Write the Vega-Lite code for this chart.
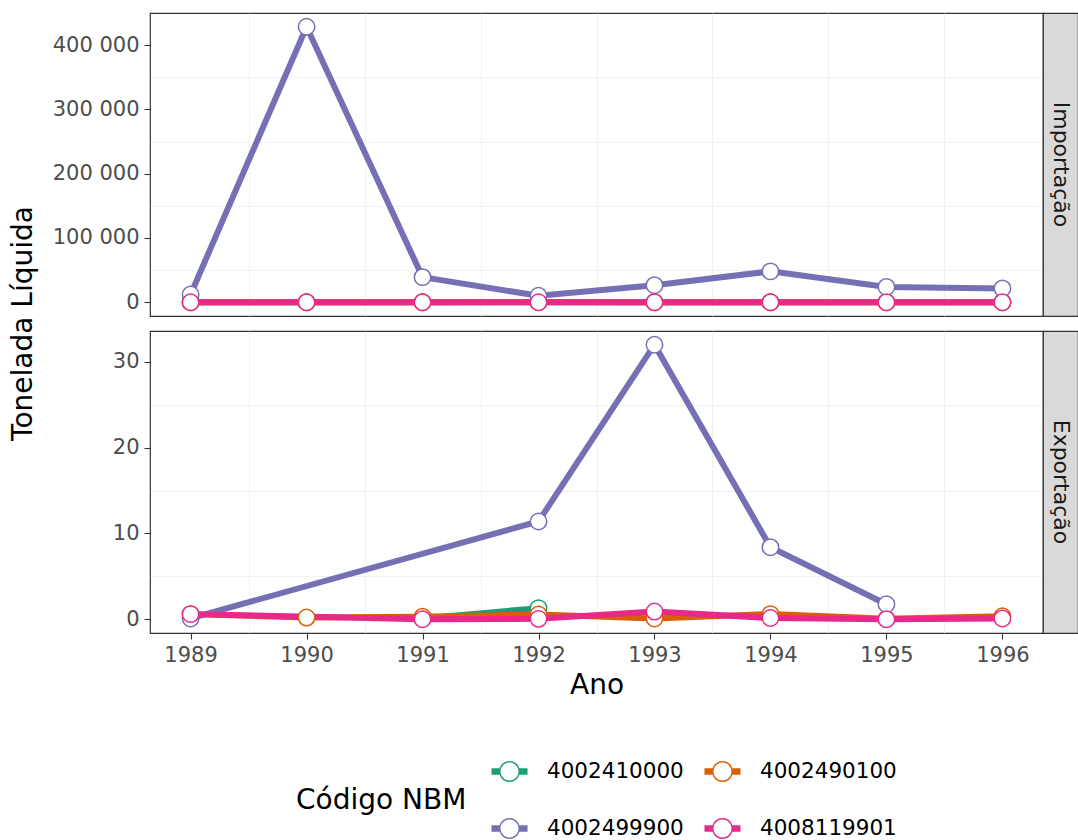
{
  "$schema": "https://vega.github.io/schema/vega-lite/v6.json",
  "padding": {"left": 8, "top": 12, "right": 0, "bottom": 0},
  "background": "white",
  "config": {
    "locale": {"number": {"decimal": ",", "thousands": " ", "grouping": [3], "currency": ["", ""]}},
    "font": "DejaVu Sans",
    "view": {"stroke": "#333333", "strokeWidth": 1.2},
    "axis": {
      "labelFont": "DejaVu Sans", "labelFontSize": 21, "labelColor": "#4D4D4D",
      "tickColor": "#333333", "tickSize": 6, "tickWidth": 1.1, "domain": false,
      "gridColor": "#EBEBEB", "gridWidth": 1.4,
      "titleFont": "DejaVu Sans", "titleFontSize": 28, "titleFontWeight": "normal", "titleColor": "#000000"
    }
  },
  "datasets": {
    "d": [
      {"fluxo": "Importação", "codigo": "4002410000", "ano": 1989, "ton": 0},
      {"fluxo": "Importação", "codigo": "4002410000", "ano": 1990, "ton": 0},
      {"fluxo": "Importação", "codigo": "4002410000", "ano": 1991, "ton": 0},
      {"fluxo": "Importação", "codigo": "4002410000", "ano": 1992, "ton": 0},
      {"fluxo": "Importação", "codigo": "4002410000", "ano": 1993, "ton": 0},
      {"fluxo": "Importação", "codigo": "4002410000", "ano": 1994, "ton": 0},
      {"fluxo": "Importação", "codigo": "4002410000", "ano": 1995, "ton": 0},
      {"fluxo": "Importação", "codigo": "4002410000", "ano": 1996, "ton": 0},
      {"fluxo": "Importação", "codigo": "4002490100", "ano": 1989, "ton": 0},
      {"fluxo": "Importação", "codigo": "4002490100", "ano": 1990, "ton": 0},
      {"fluxo": "Importação", "codigo": "4002490100", "ano": 1991, "ton": 0},
      {"fluxo": "Importação", "codigo": "4002490100", "ano": 1992, "ton": 300},
      {"fluxo": "Importação", "codigo": "4002490100", "ano": 1993, "ton": 0},
      {"fluxo": "Importação", "codigo": "4002490100", "ano": 1994, "ton": 0},
      {"fluxo": "Importação", "codigo": "4002490100", "ano": 1995, "ton": 0},
      {"fluxo": "Importação", "codigo": "4002490100", "ano": 1996, "ton": 0},
      {"fluxo": "Importação", "codigo": "4002499900", "ano": 1989, "ton": 12000},
      {"fluxo": "Importação", "codigo": "4002499900", "ano": 1990, "ton": 428500},
      {"fluxo": "Importação", "codigo": "4002499900", "ano": 1991, "ton": 39000},
      {"fluxo": "Importação", "codigo": "4002499900", "ano": 1992, "ton": 10000},
      {"fluxo": "Importação", "codigo": "4002499900", "ano": 1993, "ton": 26500},
      {"fluxo": "Importação", "codigo": "4002499900", "ano": 1994, "ton": 48000},
      {"fluxo": "Importação", "codigo": "4002499900", "ano": 1995, "ton": 23800},
      {"fluxo": "Importação", "codigo": "4002499900", "ano": 1996, "ton": 21500},
      {"fluxo": "Importação", "codigo": "4008119901", "ano": 1989, "ton": 0},
      {"fluxo": "Importação", "codigo": "4008119901", "ano": 1990, "ton": 0},
      {"fluxo": "Importação", "codigo": "4008119901", "ano": 1991, "ton": 0},
      {"fluxo": "Importação", "codigo": "4008119901", "ano": 1992, "ton": 0},
      {"fluxo": "Importação", "codigo": "4008119901", "ano": 1993, "ton": 0},
      {"fluxo": "Importação", "codigo": "4008119901", "ano": 1994, "ton": 0},
      {"fluxo": "Importação", "codigo": "4008119901", "ano": 1995, "ton": 0},
      {"fluxo": "Importação", "codigo": "4008119901", "ano": 1996, "ton": 0},
      {"fluxo": "Exportação", "codigo": "4002410000", "ano": 1991, "ton": 0.1},
      {"fluxo": "Exportação", "codigo": "4002410000", "ano": 1992, "ton": 1.3},
      {"fluxo": "Exportação", "codigo": "4002490100", "ano": 1989, "ton": 0.6},
      {"fluxo": "Exportação", "codigo": "4002490100", "ano": 1990, "ton": 0.2},
      {"fluxo": "Exportação", "codigo": "4002490100", "ano": 1991, "ton": 0.3},
      {"fluxo": "Exportação", "codigo": "4002490100", "ano": 1992, "ton": 0.55},
      {"fluxo": "Exportação", "codigo": "4002490100", "ano": 1993, "ton": 0.1},
      {"fluxo": "Exportação", "codigo": "4002490100", "ano": 1994, "ton": 0.6},
      {"fluxo": "Exportação", "codigo": "4002490100", "ano": 1995, "ton": 0.05},
      {"fluxo": "Exportação", "codigo": "4002490100", "ano": 1996, "ton": 0.35},
      {"fluxo": "Exportação", "codigo": "4002499900", "ano": 1989, "ton": 0.1},
      {"fluxo": "Exportação", "codigo": "4002499900", "ano": 1992, "ton": 11.4},
      {"fluxo": "Exportação", "codigo": "4002499900", "ano": 1993, "ton": 32.0},
      {"fluxo": "Exportação", "codigo": "4002499900", "ano": 1994, "ton": 8.4},
      {"fluxo": "Exportação", "codigo": "4002499900", "ano": 1995, "ton": 1.75},
      {"fluxo": "Exportação", "codigo": "4008119901", "ano": 1989, "ton": 0.6},
      {"fluxo": "Exportação", "codigo": "4008119901", "ano": 1991, "ton": 0.0},
      {"fluxo": "Exportação", "codigo": "4008119901", "ano": 1992, "ton": 0.05},
      {"fluxo": "Exportação", "codigo": "4008119901", "ano": 1993, "ton": 0.9},
      {"fluxo": "Exportação", "codigo": "4008119901", "ano": 1994, "ton": 0.15},
      {"fluxo": "Exportação", "codigo": "4008119901", "ano": 1995, "ton": 0.0},
      {"fluxo": "Exportação", "codigo": "4008119901", "ano": 1996, "ton": 0.1}
    ]
  },
  "columns": 2,
  "spacing": {"row": 15, "column": 0},
  "bounds": "flush",
  "concat": [
    {
      "width": 893,
      "height": 303,
      "data": {"name": "d"},
      "transform": [{"filter": "datum.fluxo === 'Importação'"}],
      "resolve": {"axis": {"x": "independent", "y": "independent"}},
      "layer": [
        {
          "mark": {"type": "line", "strokeWidth": 6},
          "encoding": {
            "x": {"field": "ano", "type": "quantitative",
              "scale": {"domain": [1988.65, 1996.35], "nice": false, "zero": false},
              "axis": {"orient": "bottom", "values": [1989.5, 1990.5, 1991.5, 1992.5, 1993.5, 1994.5, 1995.5], "labels": false, "ticks": false, "title": null, "gridWidth": 0.7}},
            "y": {"field": "ton", "type": "quantitative",
              "scale": {"domain": [-21425, 449925], "nice": false, "zero": false},
              "axis": {"orient": "left", "values": [50000, 150000, 250000, 350000], "labels": false, "ticks": false, "title": null, "gridWidth": 0.7}},
            "color": {"field": "codigo", "type": "nominal",
              "scale": {"domain": ["4002410000", "4002490100", "4002499900", "4008119901"], "range": ["#1B9E77", "#D95F02", "#7570B3", "#E7298A"]},
              "legend": {
                "orient": "none", "legendX": 146, "legendY": 740,
                "title": "Código NBM", "titleOrient": "left", "titleAnchor": "middle", "titleBaseline": "middle",
                "titleFontSize": 28, "titleFontWeight": "normal", "titleColor": "#000000", "titleFont": "DejaVu Sans", "titlePadding": 24,
                "columns": 2, "direction": "horizontal",
                "labelFontSize": 21.5, "labelColor": "#000000", "labelFont": "DejaVu Sans", "labelOffset": 19,
                "columnPadding": 20, "rowPadding": 28,
                "symbolType": "M-1,-0.18L-0.53,-0.18L-0.53,0.18L-1,0.18Z M0.53,-0.18L1,-0.18L1,0.18L0.53,0.18Z M0.58,0A0.58,0.58,0,1,1,-0.58,0A0.58,0.58,0,1,1,0.58,0Z M0.5,0A0.5,0.5,0,1,0,-0.5,0A0.5,0.5,0,1,0,0.5,0Z",
                "symbolSize": 1300,
                "encode": {
                  "symbols": {"update": {"fill": {"scale": "color", "field": "value"}, "fillOpacity": {"value": 1}, "strokeWidth": {"value": 0}}},
                  "title": {"update": {"dy": {"value": 5}}}
                }
              }}
          }
        },
        {
          "mark": {"type": "point", "shape": "circle", "filled": false, "fill": "white", "fillOpacity": 1, "opacity": 1, "size": 270, "strokeWidth": 1.5},
          "encoding": {
            "x": {"field": "ano", "type": "quantitative",
              "axis": {"orient": "bottom", "values": [1989, 1990, 1991, 1992, 1993, 1994, 1995, 1996], "labels": false, "ticks": false, "title": null}},
            "y": {"field": "ton", "type": "quantitative",
              "axis": {"orient": "left", "values": [0, 100000, 200000, 300000, 400000], "format": ",d", "labelPadding": 5,
                "title": "Tonelada Líquida", "titleX": -119, "titleY": 310, "titleBaseline": "alphabetic", "titleAngle": -90, "titleAlign": "center"}},
            "color": {"field": "codigo", "type": "nominal"}
          }
        }
      ]
    },
    {
      "width": 35,
      "height": 303,
      "view": {"fill": "#D9D9D9", "stroke": "#333333", "strokeWidth": 1.2},
      "data": {"values": [{"painel": "Importação"}]},
      "mark": {"type": "text", "angle": 90, "fontSize": 22, "color": "#1A1A1A", "font": "DejaVu Sans", "align": "center", "baseline": "middle"},
      "encoding": {"text": {"field": "painel"}}
    },
    {
      "width": 893,
      "height": 302,
      "data": {"name": "d"},
      "transform": [{"filter": "datum.fluxo === 'Exportação'"}],
      "resolve": {"axis": {"x": "independent", "y": "independent"}},
      "layer": [
        {
          "mark": {"type": "line", "strokeWidth": 6},
          "encoding": {
            "x": {"field": "ano", "type": "quantitative",
              "scale": {"domain": [1988.65, 1996.35], "nice": false, "zero": false},
              "axis": {"orient": "top", "values": [1989.5, 1990.5, 1991.5, 1992.5, 1993.5, 1994.5, 1995.5], "labels": false, "ticks": false, "title": null, "gridWidth": 0.7}},
            "y": {"field": "ton", "type": "quantitative",
              "scale": {"domain": [-1.6, 33.6], "nice": false, "zero": false},
              "axis": {"orient": "right", "values": [5, 15, 25], "labels": false, "ticks": false, "title": null, "gridWidth": 0.7}},
            "color": {"field": "codigo", "type": "nominal"}
          }
        },
        {
          "mark": {"type": "point", "shape": "circle", "filled": false, "fill": "white", "fillOpacity": 1, "opacity": 1, "size": 270, "strokeWidth": 1.5},
          "encoding": {
            "x": {"field": "ano", "type": "quantitative",
              "axis": {"orient": "bottom", "values": [1989, 1990, 1991, 1992, 1993, 1994, 1995, 1996], "format": "d", "labelPadding": 5, "title": "Ano", "titlePadding": 6}},
            "y": {"field": "ton", "type": "quantitative",
              "axis": {"orient": "left", "values": [0, 10, 20, 30], "format": "d", "labelPadding": 5, "title": null}},
            "color": {"field": "codigo", "type": "nominal"}
          }
        }
      ]
    },
    {
      "width": 35,
      "height": 302,
      "view": {"fill": "#D9D9D9", "stroke": "#333333", "strokeWidth": 1.2},
      "data": {"values": [{"painel": "Exportação"}]},
      "mark": {"type": "text", "angle": 90, "fontSize": 22, "color": "#1A1A1A", "font": "DejaVu Sans", "align": "center", "baseline": "middle"},
      "encoding": {"text": {"field": "painel"}}
    }
  ]
}
